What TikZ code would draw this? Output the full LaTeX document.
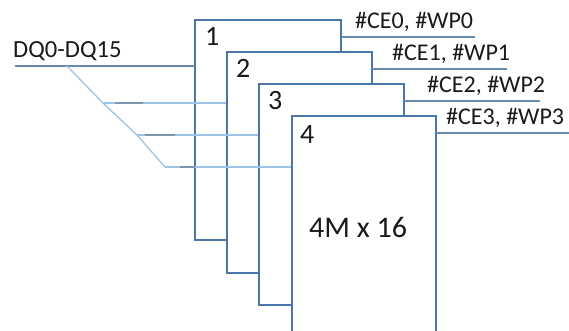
\documentclass[tikz,border=0pt]{standalone}
\usepackage{fontspec}
\setmainfont{Carlito}
\usetikzlibrary{calc}
\definecolor{boxc}{HTML}{4A76A8}
\definecolor{busc}{HTML}{6A8BB0}
\definecolor{lightc}{HTML}{9DC3E6}
\definecolor{darkc}{HTML}{7D96B0}
\definecolor{txt}{HTML}{1A1A1A}
\begin{document}
\begin{tikzpicture}[x=1pt,y=-1pt,
  chip/.style={draw=boxc,line width=2.2pt,fill=white},
  sig/.style={draw=busc,line width=1.2pt},
  tap/.style={draw=lightc,line width=1.3pt},
  tapdark/.style={draw=darkc,line width=1.3pt},
  lbl/.style={inner sep=0pt,anchor=base west,text=txt,font=\fontsize{24}{24}\selectfont},
  num/.style={inner sep=0pt,anchor=base west,text=txt,font=\fontsize{28}{28}\selectfont}]
\useasboundingbox (0,0) rectangle (569,331);
% bus
\coordinate (busL) at (15,66);
\coordinate (busR) at (195,66);
\coordinate (d0) at (67,66);
\coordinate (d2) at (103,103);
\coordinate (d3) at (137,135);
\coordinate (d4) at (165,167);
\node[lbl,font=\fontsize{24.6}{24.6}\selectfont] (dq) at (13,58) {DQ0-DQ15};
% chip 1
\path[chip] (195,20) rectangle (341,240);
\coordinate (c1) at (341,37);
\coordinate (e1) at (475,37);
\draw[sig] (c1) -- (e1);
\node[lbl] (l1) at (355,29) {\#CE0, \#WP0};
\node[num] (n1) at (205,46) {1};
\draw[sig] (busL) -- (busR);
\draw[tap] (d0) -- (d2) -- (d3) -- (d4);
% tap to chip 2
\coordinate (t2) at (227,103);
\draw[tap] (d2) -- (t2);
\draw[tapdark] ($(d2)+(12,0)$) -- ($(d2)+(40,0)$);
% chip 2
\path[chip] (227,52) rectangle (372,273);
\coordinate (c2) at (372,69);
\coordinate (e2) at (507,69);
\draw[sig] (c2) -- (e2);
\node[lbl] (l2) at (392,61) {\#CE1, \#WP1};
\node[num] (n2) at (236,78) {2};
% tap to chip 3
\coordinate (t3) at (259,135);
\draw[tap] (d3) -- (t3);
\draw[tapdark] ($(d3)+(8,0)$) -- ($(d3)+(38,0)$);
% chip 3
\path[chip] (259,84) rectangle (404,305);
\coordinate (c3) at (404,101);
\coordinate (e3) at (540,101);
\draw[sig] (c3) -- (e3);
\node[lbl] (l3) at (427,93) {\#CE2, \#WP2};
\node[num] (n3) at (268,110) {3};
% tap to chip 4
\coordinate (t4) at (292,167);
\draw[tap] (d4) -- (t4);
\draw[tapdark] ($(d4)+(15,0)$) -- ($(d4)+(30,0)$);
% chip 4 (runs off the bottom)
\fill[white] (292,116) rectangle (436,335);
\draw[boxc,line width=2.2pt] (292,335) -- (292,116) -- (436,116) -- (436,335);
\coordinate (c4) at (436,133);
\coordinate (e4) at (569,133);
\draw[sig] (c4) -- (e4);
\node[lbl] (l4) at (446,125) {\#CE3, \#WP3};
\node[num] (n4) at (300,143) {4};
\node[inner sep=0pt,anchor=base west,text=txt,font=\fontsize{30}{30}\selectfont] (cap) at (309,237) {4M x 16};
\end{tikzpicture}
\end{document}
